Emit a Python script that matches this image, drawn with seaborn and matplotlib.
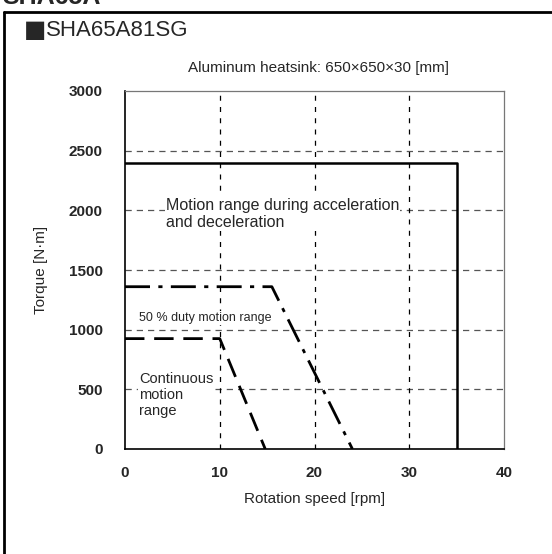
import pandas as pd
import matplotlib.pyplot as plt
import seaborn as sns

# speed [rpm] / torque [N*m] corner points of each range
accel_speed = [0, 35, 35]
accel_torque = [2400, 2400, 0]
duty50_speed = [0, 15.5, 24]
duty50_torque = [1360, 1360, 0]
cont_speed = [0, 10, 14.8]
cont_torque = [925, 925, 0]

x_ticks = [0, 10, 20, 30, 40]
y_ticks = [0, 500, 1000, 1500, 2000, 2500, 3000]

sns.set_style("white")
plt.rcParams["font.family"] = ["Liberation Sans", "DejaVu Sans"]

fig = plt.figure(figsize=(5.52, 5.54), dpi=100)
ax = fig.add_axes([125 / 552, 1 - 449 / 554, 379 / 552, 358 / 554])

sns.lineplot(x=accel_speed, y=accel_torque, sort=False, estimator=None,
             ax=ax, color="black", linewidth=1.8, zorder=4)
sns.lineplot(x=duty50_speed, y=duty50_torque, sort=False, estimator=None,
             ax=ax, color="black", linewidth=2.0, zorder=4)
ax.lines[-1].set_dashes([9, 3, 1.5, 3])
sns.lineplot(x=cont_speed, y=cont_torque, sort=False, estimator=None,
             ax=ax, color="black", linewidth=2.0, zorder=4)
ax.lines[-1].set_dashes([7, 3.5])

ax.set_xlim(0, 40)
ax.set_ylim(0, 3000)
ax.set_xticks(x_ticks)
ax.set_yticks(y_ticks)
ax.tick_params(length=0, labelsize=11)
ax.tick_params(axis="x", pad=12)
ax.tick_params(axis="y", pad=16)
for lbl in ax.get_xticklabels() + ax.get_yticklabels():
    lbl.set_fontweight("bold")

for y in y_ticks[1:-1]:
    ax.axhline(y, color="#555555", lw=0.9, ls=(0, (5, 4)), zorder=1)
for x in x_ticks[1:-1]:
    ax.axvline(x, color="black", lw=0.9, ls=(0, (4, 5)), zorder=1)

for side in ["left", "bottom"]:
    ax.spines[side].set_color("black")
    ax.spines[side].set_linewidth(1.2)
for side in ["top", "right"]:
    ax.spines[side].set_color("#777777")
    ax.spines[side].set_linewidth(0.9)

ax.set_xlabel("Rotation speed [rpm]", fontsize=11, labelpad=9)
ax.set_ylabel("Torque [N·m]", fontsize=11, labelpad=15)

box = dict(facecolor="white", edgecolor="none", pad=0.5)
ax.text(4.3, 1969, "Motion range during acceleration\nand deceleration",
        fontsize=11.5, va="center", ha="left", linespacing=1.15,
        bbox=box, zorder=3)
ax.text(1.5, 1098, "50 % duty motion range", fontsize=9, va="center",
        ha="left", bbox=box, zorder=3)
ax.text(1.5, 452, "Continuous\nmotion\nrange", fontsize=10.5, va="center",
        ha="left", linespacing=1.2, bbox=box, zorder=3)

fig.text(318 / 552, 1 - 68 / 554, "Aluminum heatsink: 650×650×30 [mm]",
         fontsize=11, ha="center", va="center")
fig.text(24 / 552, 1 - 30 / 554, "■", fontsize=17, family="DejaVu Sans",
         ha="left", va="center")
fig.text(46 / 552, 1 - 31 / 554, "SHA65A81SG", fontsize=16,
         ha="left", va="center")
fig.text(2 / 552, 1 - 4 / 554, "SHA65A", fontsize=18, fontweight="bold",
         ha="left", va="baseline")

# outer frame
fig.add_artist(plt.Line2D([4 / 552, 4 / 552], [0, 1 - 12 / 554],
                          transform=fig.transFigure, color="black", lw=2))
fig.add_artist(plt.Line2D([4 / 552, 1], [1 - 12 / 554, 1 - 12 / 554],
                          transform=fig.transFigure, color="black", lw=2))

fig.savefig("out.png", dpi=100)
